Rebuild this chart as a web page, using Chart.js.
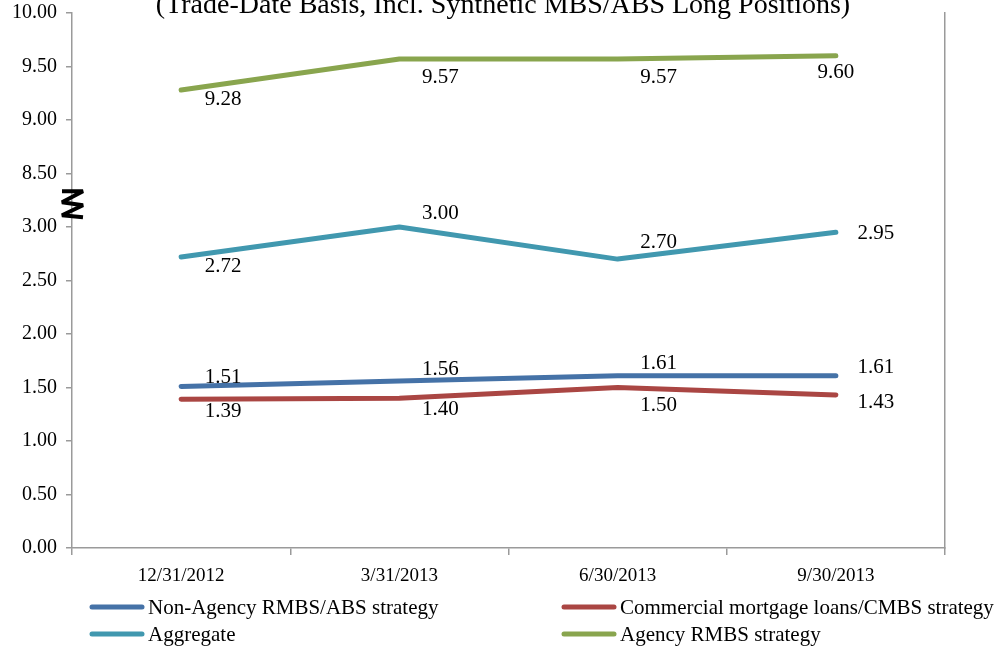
<!DOCTYPE html>
<html>
<head>
<meta charset="utf-8">
<script src="https://cdn.jsdelivr.net/npm/chart.js@4.4.1/dist/chart.umd.min.js"></script>
<style>
  html, body { margin: 0; padding: 0; background: #ffffff; }
  #wrap { position: relative; width: 1000px; height: 646px; }
</style>
</head>
<body>
<div id="wrap"><canvas id="chart" width="1000" height="646"></canvas></div>
<script>
// Quarter-end dates
const categories = ['12/31/2012', '3/31/2013', '6/30/2013', '9/30/2013'];

// Series values
const nonAgency = [1.51, 1.56, 1.61, 1.61];
const commercial = [1.39, 1.40, 1.50, 1.43];
const aggregate = [2.72, 3.00, 2.70, 2.95];
const agency = [9.28, 9.57, 9.57, 9.60];

const seriesNames = [
  'Non-Agency RMBS/ABS strategy',
  'Commercial mortgage loans/CMBS strategy',
  'Aggregate',
  'Agency RMBS strategy'
];

// Value-axis tick labels (axis is broken between 3.00 and 8.50)
const yTickLabels = ['0.00', '0.50', '1.00', '1.50', '2.00', '2.50', '3.00', '8.50', '9.00', '9.50', '10.00'];

const titleText = '(Trade-Date Basis, Incl. Synthetic MBS/ABS Long Positions)';

// The broken axis drops the 3.0 - 8.0 stretch, so upper values shift down by 5
const BREAK_AT = 3.0;
const BREAK_SHIFT = 5.0;
const toAxis = v => (v > BREAK_AT ? v - BREAK_SHIFT : v);

const colors = ['#4572A7', '#AA4643', '#4198AF', '#89A54E'];
const serif = "'Liberation Serif', 'Times New Roman', serif";

// Label offsets from each point (dx, dy) in px
const labelOffsets = [
  [[42, -9], [41, -12], [41, -12], [40, -8]],
  [[42, 12], [41, 11], [41, 18], [40, 7]],
  [[42, 10], [41, -14], [41, -17], [40, 1]],
  [[42, 9], [41, 18], [41, 18], [0, 17]]
];

const seriesValues = [nonAgency, commercial, aggregate, agency];

const datasets = seriesValues.map((vals, i) => ({
  label: seriesNames[i],
  data: vals.map(toAxis),
  rawValues: vals,
  borderColor: colors[i],
  backgroundColor: colors[i],
  borderWidth: 5,
  borderCapStyle: 'round',
  borderJoinStyle: 'round',
  pointRadius: 0,
  pointHoverRadius: 0,
  tension: 0,
  fill: false
}));

// Value labels next to every point
const valueLabels = {
  id: 'valueLabels',
  afterDatasetsDraw(chart) {
    const ctx = chart.ctx;
    ctx.save();
    ctx.font = '21px ' + serif;
    ctx.fillStyle = '#000000';
    ctx.textAlign = 'center';
    ctx.textBaseline = 'middle';
    chart.data.datasets.forEach((ds, i) => {
      const meta = chart.getDatasetMeta(i);
      meta.data.forEach((pt, j) => {
        const off = labelOffsets[i][j];
        ctx.fillText(ds.rawValues[j].toFixed(2), pt.x + off[0], pt.y + off[1]);
      });
    });
    ctx.restore();
  }
};

// Title, axis-break mark and two-column legend
const decorations = {
  id: 'decorations',
  afterDraw(chart) {
    const ctx = chart.ctx;
    const area = chart.chartArea;
    ctx.save();

    // title (partly clipped at the top edge)
    ctx.font = '28px ' + serif;
    ctx.fillStyle = '#000000';
    ctx.textAlign = 'center';
    ctx.textBaseline = 'alphabetic';
    ctx.fillText(titleText, 503, 13);

    // zig-zag break mark on the value axis
    const yScale = chart.scales.y;
    const yb = (yScale.getPixelForValue(3.0) + yScale.getPixelForValue(3.5)) / 2;
    const x0 = area.left - 10, x1 = area.left + 11;
    ctx.strokeStyle = '#000000';
    ctx.lineWidth = 4;
    ctx.lineJoin = 'bevel';
    ctx.lineCap = 'butt';
    ctx.beginPath();
    ctx.moveTo(x0, yb - 9);
    ctx.lineTo(x1, yb - 9);
    ctx.lineTo(x0, yb + 2);
    ctx.lineTo(x1, yb + 5);
    ctx.lineTo(x0, yb + 15);
    ctx.lineTo(x1, yb + 17);
    ctx.stroke();

    // legend
    const cols = [90, 562];
    const rows = [607, 634];
    ctx.font = '21px ' + serif;
    ctx.textAlign = 'left';
    ctx.textBaseline = 'middle';
    ctx.lineCap = 'round';
    chart.data.datasets.forEach((ds, i) => {
      const cx = cols[i % 2];
      const cy = rows[Math.floor(i / 2)];
      ctx.strokeStyle = ds.borderColor;
      ctx.lineWidth = 5;
      ctx.beginPath();
      ctx.moveTo(cx + 2, cy);
      ctx.lineTo(cx + 52, cy);
      ctx.stroke();
      ctx.fillStyle = '#000000';
      ctx.fillText(ds.label, cx + 58, cy + 1);
    });
    ctx.restore();
  }
};

new Chart(document.getElementById('chart'), {
  type: 'line',
  data: { labels: categories, datasets },
  options: {
    responsive: false,
    animation: false,
    events: [],
    layout: { padding: { top: 13, right: 55, bottom: 0, left: 0 } },
    plugins: {
      legend: { display: false },
      title: { display: false },
      tooltip: { enabled: false }
    },
    scales: {
      x: {
        type: 'category',
        offset: true,
        grid: {
          offset: true,
          drawOnChartArea: false,
          drawTicks: true,
          tickLength: 7,
          color: '#9a9a9a',
          lineWidth: 1.5
        },
        border: { color: '#9a9a9a', width: 1.5 },
        ticks: {
          color: '#000000',
          font: { family: serif, size: 19 },
          padding: 10,
          maxRotation: 0
        },
        afterFit(s) { s.height = 98; s.paddingLeft = 0; s.paddingRight = 0; }
      },
      y: {
        type: 'linear',
        min: 0,
        max: 5,
        grid: {
          drawOnChartArea: false,
          drawTicks: true,
          tickLength: 6,
          color: '#9a9a9a',
          lineWidth: 1.5
        },
        border: { color: '#9a9a9a', width: 1.5 },
        ticks: {
          stepSize: 0.5,
          color: '#000000',
          font: { family: serif, size: 20 },
          padding: 9,
          callback: (v, idx) => yTickLabels[idx]
        },
        afterFit(s) { s.width = 72; s.paddingTop = 0; s.paddingBottom = 0; }
      },
      y2: {
        type: 'linear',
        position: 'right',
        min: 0,
        max: 5,
        grid: { drawOnChartArea: false, drawTicks: false },
        border: { color: '#9a9a9a', width: 1.5 },
        ticks: { display: false },
        afterFit(s) { s.width = 0; s.paddingTop = 0; s.paddingBottom = 0; }
      }
    }
  },
  plugins: [valueLabels, decorations]
});
</script>
</body>
</html>
